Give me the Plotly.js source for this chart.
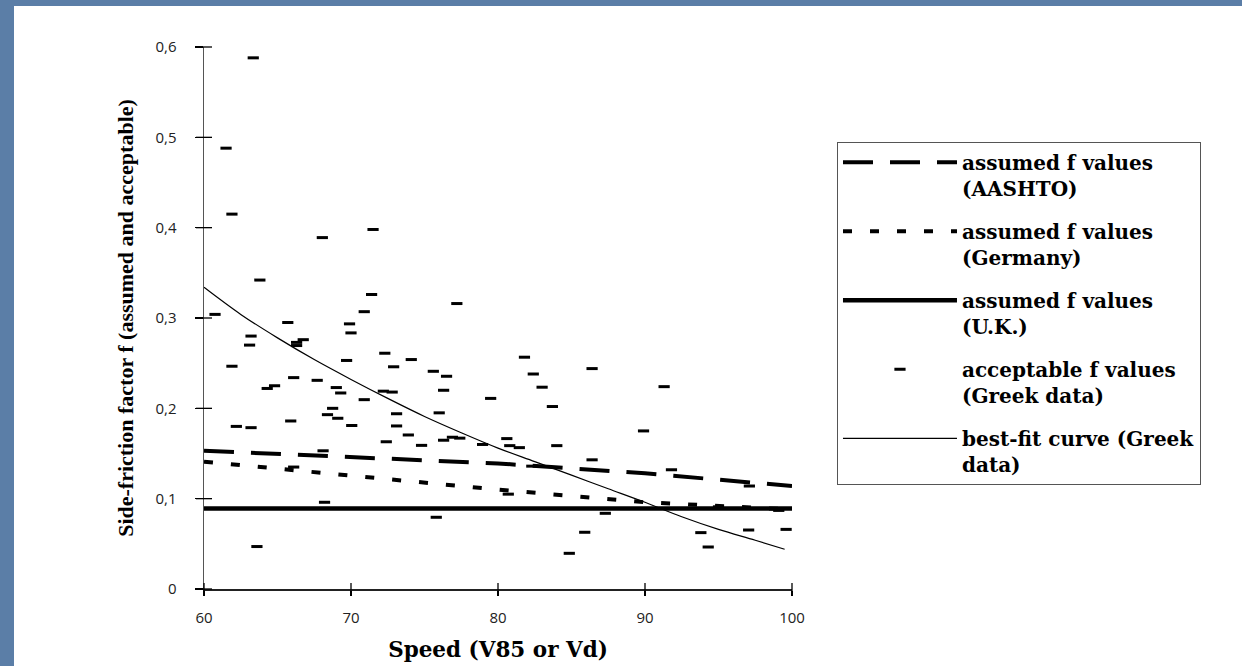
<!DOCTYPE html>
<html>
<head>
<meta charset="utf-8">
<script src="https://cdn.plot.ly/plotly-3.0.1.min.js"></script>
<style>
  html, body { margin: 0; padding: 0; width: 1242px; height: 666px; overflow: hidden;
    background: #5b7ea7; }
  #chart { position: absolute; left: 14px; top: 6px; width: 1228px; height: 660px; background: #fff; }
</style>
</head>
<body>
<div id="chart"></div>
<script>
// ---- data ----
const speedTicks = [60, 70, 80, 90, 100];
const fTicks = [0, 0.1, 0.2, 0.3, 0.4, 0.5, 0.6];
const fTickLabels = ['0', '0,1', '0,2', '0,3', '0,4', '0,5', '0,6'];
const speedRange = [60, 100];
const fRange = [0, 0.6];

const aashtoSpeed = [60, 70, 80, 90, 100];
const aashtoF = [0.153, 0.146, 0.139, 0.128, 0.114];

const germanySpeed = [60, 70, 80, 90, 100];
const germanyF = [0.141, 0.125, 0.110, 0.096, 0.088];

const ukSpeed = [60, 100];
const ukF = [0.089, 0.089];

const greekSpeed = [63.35, 61.5, 61.9, 68.05, 71.5, 63.8, 71.4, 70.9, 77.2, 60.75,
  65.7, 69.9, 70.0, 63.2, 63.1, 66.3, 66.75, 66.3, 61.9, 69.7,
  72.3, 72.9, 74.1, 75.6, 76.5, 59.8, 66.1, 67.7, 64.3, 64.8,
  69.0, 69.3, 70.9, 72.2, 72.8, 76.3, 79.5, 59.7, 68.75, 68.4,
  69.1, 65.9, 73.1, 76.0, 62.2, 63.2, 70.05, 73.1, 73.9, 72.4,
  74.8, 76.3, 76.9, 77.4, 78.95, 68.1, 66.1, 68.2, 75.8, 63.6,
  81.8, 86.4, 82.4, 83.0, 91.3, 83.7, 89.9, 80.6, 80.8, 81.45,
  84.0, 86.4, 91.8, 97.1, 82.3, 80.7, 87.3, 85.9, 84.85, 93.8,
  94.3, 97.05, 99.6, 95.0, 99.1];
const greekF = [0.588, 0.488, 0.415, 0.389, 0.398, 0.342, 0.326, 0.307, 0.316, 0.304,
  0.295, 0.2935, 0.2835, 0.280, 0.270, 0.273, 0.276, 0.2695, 0.2466, 0.253,
  0.261, 0.246, 0.254, 0.241, 0.2355, 0.233, 0.234, 0.231, 0.222, 0.225,
  0.223, 0.217, 0.2096, 0.219, 0.218, 0.220, 0.211, 0.2045, 0.200, 0.193,
  0.189, 0.186, 0.194, 0.195, 0.180, 0.1786, 0.181, 0.1805, 0.1705, 0.163,
  0.159, 0.1647, 0.168, 0.167, 0.160, 0.153, 0.135, 0.096, 0.0794, 0.047,
  0.2566, 0.244, 0.238, 0.2234, 0.224, 0.202, 0.175, 0.1665, 0.1587, 0.1565,
  0.1587, 0.143, 0.132, 0.114, 0.136, 0.105, 0.0838, 0.0628, 0.0395, 0.0624,
  0.0465, 0.0653, 0.066, 0.091, 0.087];

const fitSpeed = [60, 62.5, 65, 67.5, 70, 72.5, 75, 77.5, 80, 82.5, 85, 87.5, 90, 92.5, 95, 97.5, 99.5];
const fitF = [0.334, 0.304, 0.278, 0.254, 0.232, 0.211, 0.191, 0.173, 0.156, 0.141, 0.126, 0.111, 0.096, 0.080, 0.066, 0.054, 0.044];

const seriesNames = [
  'assumed f values<br>(AASHTO)',
  'assumed f values<br>(Germany)',
  'assumed f values<br>(U.K.)',
  'acceptable f values<br>(Greek data)',
  'best-fit curve (Greek<br>data)'
];

// ---- traces ----
const traces = [
  { x: aashtoSpeed, y: aashtoF, mode: 'lines', name: seriesNames[0], legendgroup: 'a',
    line: { color: '#000', width: 4, dash: '30px,17px' } },
  { x: germanySpeed, y: germanyF, mode: 'lines', name: seriesNames[1], legendgroup: 'b',
    line: { color: '#000', width: 4, dash: '9px,18px' } },
  { x: ukSpeed, y: ukF, mode: 'lines', name: seriesNames[2], legendgroup: 'c',
    line: { color: '#000', width: 4.5 } },
  { x: greekSpeed, y: greekF, mode: 'markers', name: seriesNames[3], legendgroup: 'd',
    cliponaxis: false,
    marker: { symbol: 'line-ew', size: 8, color: '#000', line: { color: '#000', width: 3 } } },
  { x: fitSpeed, y: fitF, mode: 'lines', name: seriesNames[4], legendgroup: 'e',
    line: { color: '#000', width: 1.2, shape: 'spline' } }
];

// crossing tick marks (axis decoration), placed from the tick arrays
const tickShapes = [];
speedTicks.forEach(function (v) {
  const fx = (v - speedRange[0]) / (speedRange[1] - speedRange[0]);
  tickShapes.push({ type: 'line', layer: 'above', xref: 'paper', yref: 'paper',
    x0: fx, x1: fx, ysizemode: 'pixel', yanchor: 0, y0: -5, y1: 6,
    line: { color: '#000', width: 1.3 } });
});
fTicks.forEach(function (v) {
  const fy = (v - fRange[0]) / (fRange[1] - fRange[0]);
  tickShapes.push({ type: 'line', layer: 'above', xref: 'paper', yref: 'paper',
    y0: fy, y1: fy, xsizemode: 'pixel', xanchor: 0, x0: -8, x1: 8,
    line: { color: '#000', width: 1.3 } });
});

const tickFont = { family: 'Open Sans, sans-serif', size: 15, color: '#222' };

const layout = {
  width: 1228, height: 660,
  paper_bgcolor: '#ffffff', plot_bgcolor: '#ffffff',
  margin: { l: 190, r: 450, t: 41, b: 77 },
  showlegend: true,
  shapes: tickShapes,
  xaxis: {
    range: speedRange, tickvals: speedTicks, ticktext: speedTicks.map(String),
    showgrid: false, zeroline: false, showline: true, linecolor: '#222', linewidth: 1.5,
    ticks: 'outside', ticklen: 5, tickwidth: 1.3, tickcolor: '#000',
    ticklabelstandoff: 9, tickfont: tickFont,
    title: { text: 'Speed (V85 or Vd)', standoff: 16,
      font: { family: 'DejaVu Serif', size: 21.5, weight: 700, color: '#000' } }
  },
  yaxis: {
    range: fRange, tickvals: fTicks, ticktext: fTickLabels,
    showgrid: false, zeroline: false, showline: true, linecolor: '#555', linewidth: 1.5,
    ticks: 'outside', ticklen: 8, tickwidth: 1.3, tickcolor: '#000',
    ticklabelstandoff: 15, tickfont: tickFont,
    title: { text: 'Side-friction factor f (assumed and acceptable)', standoff: 16,
      font: { family: 'Liberation Serif', size: 22, weight: 700, color: '#000' } }
  },
  legend: {
    x: 1.0765, xanchor: 'left', y: 0.825, yanchor: 'top',
    bgcolor: '#fff', bordercolor: '#555', borderwidth: 1,
    font: { family: 'DejaVu Serif', size: 20, weight: 700, color: '#000' },
    traceorder: 'grouped', tracegroupgap: 14, valign: 'top', itemwidth: 114
  }
};

Plotly.newPlot('chart', traces, layout, { displayModeBar: false, staticPlot: true });
</script>
</body>
</html>
